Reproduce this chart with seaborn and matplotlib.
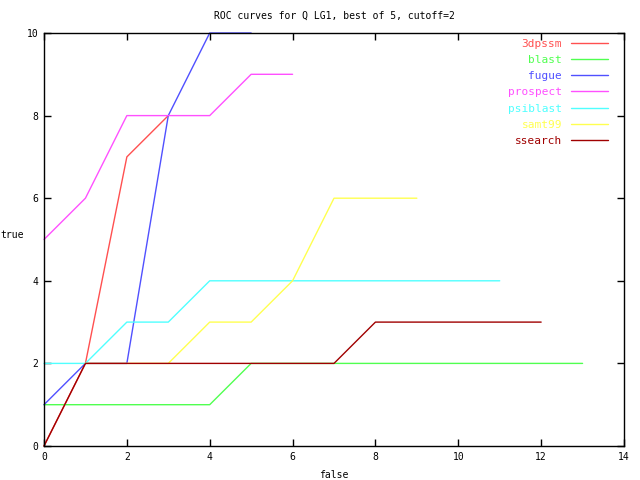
import pandas as pd
import matplotlib
matplotlib.use("Agg")
import matplotlib.pyplot as plt
import seaborn as sns

methods = ["3dpssm", "blast", "fugue", "prospect", "psiblast", "samt99", "ssearch"]
colors = ["#ff5050", "#50ff50", "#5050ff", "#ff50ff", "#50ffff", "#ffff50", "#a00000"]

x_3dpssm = [0, 1, 2, 3]
y_3dpssm = [0, 2, 7, 8]
x_blast = [0, 1, 2, 3, 4, 5, 6, 7, 8, 9, 10, 11, 12, 13]
y_blast = [1, 1, 1, 1, 1, 2, 2, 2, 2, 2, 2, 2, 2, 2]
x_fugue = [0, 1, 2, 3, 4, 5]
y_fugue = [1, 2, 2, 8, 10, 10]
x_prospect = [0, 1, 2, 3, 4, 5, 6]
y_prospect = [5, 6, 8, 8, 8, 9, 9]
x_psiblast = [0, 1, 2, 3, 4, 5, 6, 7, 8, 9, 10, 11]
y_psiblast = [2, 2, 3, 3, 4, 4, 4, 4, 4, 4, 4, 4]
x_samt99 = [1, 2, 3, 4, 5, 6, 7, 8, 9]
y_samt99 = [2, 2, 2, 3, 3, 4, 6, 6, 6]
x_ssearch = [0, 1, 2, 3, 4, 5, 6, 7, 8, 9, 10, 11, 12]
y_ssearch = [0, 2, 2, 2, 2, 2, 2, 2, 3, 3, 3, 3, 3]

xs = [x_3dpssm, x_blast, x_fugue, x_prospect, x_psiblast, x_samt99, x_ssearch]
ys = [y_3dpssm, y_blast, y_fugue, y_prospect, y_psiblast, y_samt99, y_ssearch]

rows = []
for m, xv, yv in zip(methods, xs, ys):
    for a, b in zip(xv, yv):
        rows.append({"method": m, "false": a, "true": b})
df = pd.DataFrame(rows)

sns.set_style("ticks")
plt.rcParams["font.family"] = ["DejaVu Sans Mono"]
plt.rcParams["text.color"] = "black"
plt.rcParams["axes.labelcolor"] = "black"
plt.rcParams["xtick.color"] = "black"
plt.rcParams["ytick.color"] = "black"

fig = plt.figure(figsize=(6.4, 4.8), dpi=100)
ax = fig.add_axes([44 / 640, 1 - 446 / 480, 580 / 640, 413 / 480])

sns.lineplot(data=df, x="false", y="true", hue="method", hue_order=methods,
             palette=dict(zip(methods, colors)), estimator=None, sort=False,
             linewidth=1, ax=ax)
for ln in ax.lines:
    ln.set_clip_on(False)

ax.set_xlim(0, 14)
ax.set_ylim(0, 10)
ax.set_xticks(range(0, 15, 2))
ax.set_yticks(range(0, 11, 2))
ax.tick_params(direction="in", length=5, width=1, top=True, right=True,
               labelsize=7, pad=4)
for s in ax.spines.values():
    s.set_visible(True)
    s.set_linewidth(1)
    s.set_color("black")

ax.set_title("ROC curves for Q LG1, best of 5, cutoff=2", fontsize=7, pad=10)
ax.set_xlabel("false", fontsize=7, labelpad=6)
ax.set_ylabel("true", fontsize=7, rotation=0, labelpad=0)
ax.yaxis.set_label_coords(-0.055, 0.5)

leg = ax.legend(loc="upper right", bbox_to_anchor=(0.985, 1.005), frameon=False,
                markerfirst=False, labelcolor="linecolor", fontsize=8,
                handlelength=3.3, handletextpad=0.8, labelspacing=0.56,
                borderaxespad=0.3)
for t in leg.get_texts():
    t.set_ha("right")

fig.savefig("out.png", dpi=100)
